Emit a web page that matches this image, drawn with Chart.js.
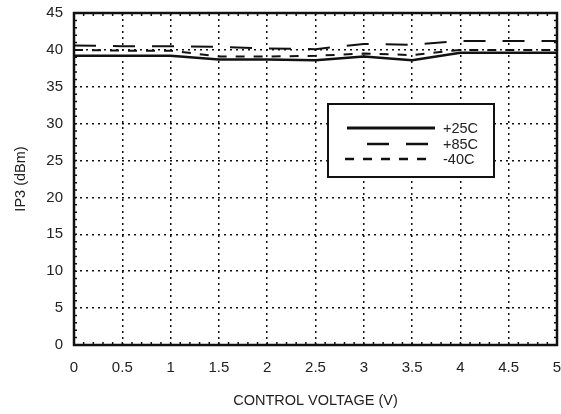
<!DOCTYPE html>
<html>
<head>
<meta charset="utf-8">
<script src="https://cdn.jsdelivr.net/npm/chart.js@4"></script>
<style>
  html, body { margin: 0; padding: 0; background: #fff; }
  #wrap { width: 561px; height: 414px; }
</style>
</head>
<body>
<div id="wrap"><canvas id="ip3Chart" width="561" height="414"></canvas></div>
<script>
// control voltage (V)
var voltages = [0, 0.5, 1, 1.5, 2, 2.5, 3, 3.5, 4, 4.5, 5];
// IP3 (dBm) per temperature
var ip3_25C = [39.2, 39.2, 39.2, 38.7, 38.7, 38.6, 39.1, 38.6, 39.6, 39.6, 39.6];
var ip3_85C = [40.6, 40.5, 40.5, 40.4, 40.2, 40.1, 40.8, 40.7, 41.2, 41.2, 41.2];
var ip3_m40C = [40.0, 39.9, 39.9, 39.1, 39.1, 39.2, 39.5, 39.3, 40.0, 40.0, 40.0];
var seriesNames = ["+25C", "+85C", "-40C"];
var xTicks = [0, 0.5, 1, 1.5, 2, 2.5, 3, 3.5, 4, 4.5, 5];
var yTicks = [0, 5, 10, 15, 20, 25, 30, 35, 40, 45];

var FONT = "'Liberation Sans', Arial, sans-serif";
var dashes = [[], [22, 17], [9, 9]];
var widths = [2.5, 2, 2];

function toPoints(vals) {
  var pts = [];
  for (var i = 0; i < voltages.length; i++) pts.push({x: voltages[i], y: vals[i]});
  return pts;
}

// frame, minor ticks and legend box
var framePlugin = {
  id: 'frame',
  afterDraw: function(chart) {
    var ctx = chart.ctx, a = chart.chartArea;
    var xs = chart.scales.x, ys = chart.scales.y;
    ctx.save();
    ctx.strokeStyle = '#111';
    // minor ticks
    ctx.lineWidth = 1.5;
    ctx.beginPath();
    for (var v = 0; v <= 45; v += 1) {
      var py = ys.getPixelForValue(v);
      ctx.moveTo(a.left, py); ctx.lineTo(a.left + 3, py);
      ctx.moveTo(a.right, py); ctx.lineTo(a.right - 3, py);
    }
    for (var k = 0; k <= 50; k++) {
      var px = xs.getPixelForValue(k / 10);
      ctx.moveTo(px, a.top); ctx.lineTo(px, a.top + 3);
      ctx.moveTo(px, a.bottom); ctx.lineTo(px, a.bottom - 3);
    }
    ctx.stroke();
    ctx.lineWidth = 2.5;
    ctx.strokeRect(a.left, a.top, a.right - a.left, a.bottom - a.top);

    // legend
    var bx = 328, by = 104, bw = 166, bh = 73;
    ctx.fillStyle = '#fff';
    ctx.fillRect(bx, by, bw, bh);
    ctx.lineWidth = 2;
    ctx.strokeRect(bx, by, bw, bh);
    var rows = [128, 144, 159];
    var starts = [347, 367, 345];
    ctx.font = '14.5px ' + FONT;
    ctx.textBaseline = 'middle';
    for (var i = 0; i < seriesNames.length; i++) {
      ctx.beginPath();
      ctx.setLineDash(dashes[i]);
      ctx.lineWidth = i === 0 ? 3 : 2.5;
      ctx.strokeStyle = '#111';
      ctx.moveTo(starts[i], rows[i]);
      ctx.lineTo(435, rows[i]);
      ctx.stroke();
      ctx.setLineDash([]);
      ctx.fillStyle = '#222';
      ctx.fillText(seriesNames[i], 443, rows[i] + 1);
    }
    ctx.restore();
  }
};

var datasets = [ip3_25C, ip3_85C, ip3_m40C].map(function(vals, i) {
  return {
    label: seriesNames[i],
    data: toPoints(vals),
    borderColor: '#111',
    borderWidth: widths[i],
    borderDash: dashes[i],
    pointRadius: 0,
    tension: 0,
    fill: false
  };
});

var gridOpts = {
  color: '#111',
  lineWidth: 1.5,
  drawTicks: false
};

new Chart(document.getElementById('ip3Chart'), {
  type: 'line',
  data: { datasets: datasets },
  plugins: [framePlugin],
  options: {
    responsive: false,
    animation: false,
    events: [],
    layout: { padding: { top: 13, right: 4, left: 8, bottom: 0 } },
    plugins: { legend: { display: false }, tooltip: { enabled: false } },
    scales: {
      x: {
        type: 'linear',
        min: 0, max: 5,
        afterBuildTicks: function(s) { s.ticks = xTicks.map(function(v) { return {value: v}; }); },
        afterFit: function(s) { s.height = 69; s.paddingLeft = 0; s.paddingRight = 0; },
        grid: gridOpts,
        border: { display: false, dash: [2, 4] },
        ticks: { color: '#222', font: { family: FONT, size: 15 }, padding: 14, maxRotation: 0,
                 callback: function(v) { return String(v); } },
        title: { display: true, text: 'CONTROL VOLTAGE (V)', color: '#222', font: { family: FONT, size: 14.5 }, padding: { top: 10, bottom: 4 } }
      },
      y: {
        min: 0, max: 45,
        afterBuildTicks: function(s) { s.ticks = yTicks.map(function(v) { return {value: v}; }); },
        afterFit: function(s) { s.width = 66; s.paddingTop = 0; s.paddingBottom = 0; },
        grid: gridOpts,
        border: { display: false, dash: [2, 4] },
        ticks: { color: '#222', font: { family: FONT, size: 15 }, padding: 11,
                 callback: function(v) { return String(v); } },
        title: { display: true, text: 'IP3 (dBm)', color: '#222', font: { family: FONT, size: 14.5 }, padding: { top: 4, bottom: 4 } }
      }
    }
  }
});
</script>
</body>
</html>
